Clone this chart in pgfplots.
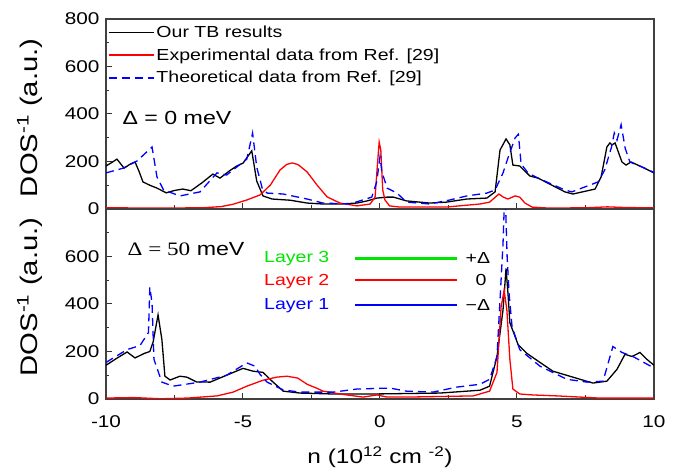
\documentclass[border=0pt]{standalone}
\usepackage{pgfplots}
\pgfplotsset{compat=1.18}
\usepackage{fontspec}
\setmainfont{Liberation Sans}[FakeStretch=1.22]
\newfontfamily\serifx{Liberation Serif}[FakeStretch=1.22]
\definecolor{mygreen}{RGB}{0,230,0}
\begin{document}
\begin{tikzpicture}
\pgfplotsset{
  every axis/.append style={
    scale only axis, width=548pt, height=190pt,
    xmin=-10, xmax=10, ymin=0, ymax=800,
    tick pos=left, tick align=inside,
    xtick={-10,-5,0,5,10}, minor xtick={-7.5,-2.5,2.5,7.5},
    minor ytick={100,300,500,700},
    major tick length=6pt, minor tick length=3.5pt,
    every tick/.style={black!80, line width=1pt},
    axis line style={black!75, line width=1.2pt},
    tick label style={font=\fontsize{17}{20}\selectfont},
    xticklabel style={yshift=-13pt},
    yticklabel style={xshift=-3pt},
    /pgf/number format/assume math mode=true,
    ylabel={DOS\textsuperscript{-1} (a.u.)},
    scaled ticks=false,
  },
}
% ---------------- top panel
\begin{axis}[at={(0,190pt)}, anchor=south west,
  ytick={0,200,400,600,800}, xticklabels={},
  ylabel style={at={(axis description cs:-0.139,0.48)}, anchor=center, font=\fontsize{24}{26}\selectfont},
  legend style={at={(axis cs:-10,800)}, anchor=north west, yshift=-3.6pt, xshift=1pt, draw=none, fill=none,
    font=\fontsize{16}{18}\selectfont, row sep=5.7pt, inner xsep=1pt, inner ysep=1pt,
    legend cell align=left},
  legend image code/.code={\draw[#1] (0pt,0pt) -- (15pt,0pt) -- (30pt,0pt) -- (45pt,0pt);},
]
\addplot[color=black, line width=1.3pt] coordinates {(-10,181) (-9.8,195) (-9.6,210) (-9.34,172) (-9.1,190) (-8.94,198) (-8.8,160) (-8.65,114) (-8.4,100) (-8.14,88) (-7.8,68) (-7.5,78) (-7.2,84) (-6.9,77) (-6.5,110) (-6.1,147) (-5.84,130) (-5.5,160) (-5.23,181) (-5.0,193) (-4.68,245) (-4.5,118) (-4.27,55) (-3.94,42) (-3.28,37) (-2.66,25) (-2.08,21) (-1.46,21) (-0.84,25) (-0.47,34) (-0.11,46) (0.26,50) (0.49,50) (0.97,34) (1.82,25) (2.43,29) (3.17,42) (3.9,46) (4.2,72) (4.38,248) (4.6,295) (4.74,270) (4.85,185) (5.1,181) (5.47,139) (5.77,130) (6.75,72) (7.04,63) (7.85,84) (8.07,135) (8.28,261) (8.39,278) (8.47,270) (8.58,278) (8.83,198) (8.98,185) (9.16,198) (9.56,177) (9.93,156) (10,152)};
\addlegendentry{Our TB results}
\addplot[color=red, line width=1.3pt] coordinates {(-10,5) (-8,4) (-6.5,5) (-5.8,10) (-5.36,20) (-4.86,38) (-4.38,59) (-4.0,101) (-3.65,164) (-3.4,188) (-3.2,194) (-2.99,187) (-2.66,156) (-2.3,101) (-1.93,51) (-1.46,25) (-0.84,13) (-0.36,21) (-0.18,50) (-0.1,177) (-0.03,282) (0.03,248) (0.1,80) (0.18,38) (0.35,13) (0.73,8) (2.4,8) (3.65,21) (4.0,29) (4.34,63) (4.5,50) (4.67,42) (4.93,55) (5.1,50) (5.29,25) (5.55,8) (6.13,4) (7.5,5) (8.3,9) (9,6) (10,5)};
\addlegendentry{Experimental data from Ref. [29]}
\addplot[color=blue, line width=1.3pt, dash pattern=on 8pt off 5pt] coordinates {(-10,152) (-9.37,172) (-8.87,202) (-8.32,261) (-8.14,135) (-7.9,80) (-7.3,55) (-6.57,72) (-5.95,152) (-5.6,143) (-4.86,210) (-4.65,320) (-4.5,177) (-4.3,88) (-4.12,67) (-3.53,63) (-2.66,42) (-2.08,25) (-1.1,21) (-0.3,50) (-0.12,114) (0,220) (0.07,156) (0.26,88) (0.62,67) (0.97,29) (1.82,21) (2.55,38) (3.17,55) (3.9,67) (4.2,80) (4.49,152) (4.67,215) (4.93,299) (5.05,315) (5.15,190) (5.4,152) (5.77,130) (6.75,80) (7.0,72) (7.96,114) (8.2,164) (8.45,261) (8.55,320) (8.65,290) (8.8,355) (8.95,255) (9.12,198) (9.56,177) (9.96,156) (10,152)};
\addlegendentry{Theoretical data from Ref. [29]}
\node[anchor=center, font=\fontsize{19}{22}\selectfont] at (axis cs:-7.41,383) {Δ = 0 meV};
\end{axis}
% ---------------- bottom panel
\begin{axis}[at={(0,0)}, anchor=south west,
  ytick={0,200,400,600},
  ylabel style={at={(axis description cs:-0.139,0.537)}, anchor=center, font=\fontsize{24}{26}\selectfont},
  xlabel={n (10\textsuperscript{12} cm \textsuperscript{-2})},
  xlabel style={at={(axis description cs:0.5,0)}, yshift=-58pt, anchor=center, font=\fontsize{20}{24}\selectfont},
]
\addplot[color=black, line width=1.3pt] coordinates {(-10,142) (-9.6,172) (-9.23,198) (-8.94,173) (-8.6,192) (-8.4,200) (-8.28,240) (-8.1,354) (-7.96,250) (-7.85,96) (-7.66,80) (-7.3,96) (-7.05,92) (-6.7,72) (-6.2,71) (-5.6,100) (-5.0,129) (-4.63,117) (-4.27,112) (-3.94,75) (-3.53,33) (-2.92,25) (-1.7,21) (-0.26,21) (2.19,25) (3.17,33) (3.65,37) (4.0,54) (4.27,179) (4.49,375) (4.6,550) (4.67,446) (4.74,321) (5.04,229) (5.36,192) (5.84,154) (6.31,117) (7.04,92) (7.77,67) (8.28,75) (8.65,125) (8.94,188) (9.2,179) (9.49,196) (9.74,167) (10,142)};
\addplot[color=red, line width=1.3pt] coordinates {(-10,4) (-9,6) (-8,1) (-7,4) (-5.95,13) (-5.36,29) (-4.86,54) (-4.27,79) (-3.77,92) (-3.4,96) (-3.0,88) (-2.66,62) (-2.3,45) (-2.08,33) (-1.46,21) (-0.62,8) (-0.11,17) (0.26,8) (0.97,8) (3.4,13) (4.0,33) (4.27,112) (4.42,388) (4.53,458) (4.63,375) (4.74,167) (4.85,42) (5.1,21) (5.58,17) (6.46,13) (8,4) (10,4)};
\addplot[color=blue, line width=1.3pt, dash pattern=on 8pt off 5pt] coordinates {(-10,154) (-9.23,208) (-8.76,225) (-8.45,280) (-8.4,471) (-8.32,404) (-8.25,167) (-7.96,71) (-7.55,54) (-6.57,71) (-5.6,100) (-4.86,152) (-4.56,138) (-4.38,104) (-4.12,71) (-3.53,38) (-2.92,29) (-1.7,29) (-0.84,42) (0.36,46) (0.97,33) (1.93,29) (2.8,50) (3.65,62) (4.0,83) (4.27,179) (4.49,654) (4.56,900) (4.64,600) (4.71,446) (4.82,304) (5.1,208) (5.84,138) (6.82,83) (7.55,71) (8.14,75) (8.5,221) (8.83,196) (9.23,179) (9.96,133) (10,130)};
\node[anchor=center, font=\fontsize{19}{22}\selectfont] at (axis cs:-7.08,633) {{\serifx Δ = 50} meV};
\node[anchor=east, text=mygreen, font=\fontsize{16}{20}\selectfont] at (axis cs:-1.72,592) {Layer 3};
\node[anchor=east, text=red, font=\fontsize{16}{20}\selectfont] at (axis cs:-1.72,496) {Layer 2};
\node[anchor=east, text=blue, font=\fontsize{16}{20}\selectfont] at (axis cs:-1.72,392) {Layer 1};
\draw[mygreen, line width=2.4pt] (axis cs:-0.91,592) -- (axis cs:2.81,592);
\draw[red, line width=2.4pt] (axis cs:-0.91,500) -- (axis cs:2.81,500);
\draw[blue, line width=2.4pt] (axis cs:-0.91,396) -- (axis cs:2.81,396);
\node[anchor=west, font=\fontsize{16}{20}\selectfont] at (axis cs:3.0,592) {+Δ};
\node[anchor=center, font=\fontsize{16}{20}\selectfont] at (axis cs:3.69,500) {0};
\node[anchor=west, font=\fontsize{16}{20}\selectfont] at (axis cs:3.0,396) {−Δ};
\end{axis}
\path[use as bounding box] (-106pt,-72pt) rectangle (583pt,399pt);
\end{tikzpicture}
\end{document}
